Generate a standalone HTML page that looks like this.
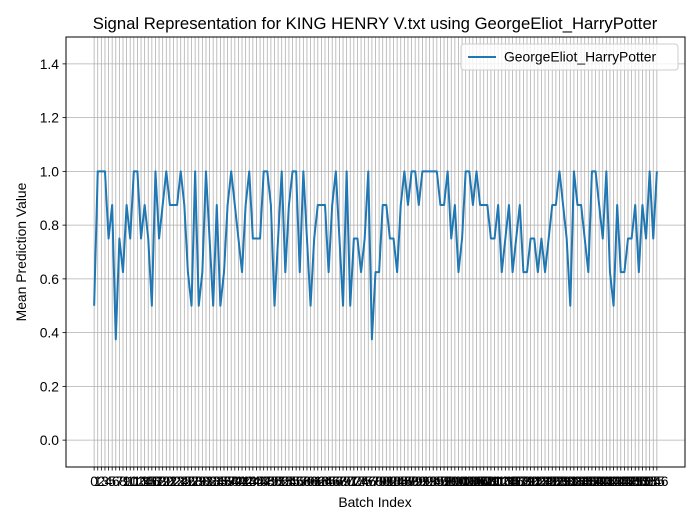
<!DOCTYPE html>
<html><head><meta charset="utf-8"><style>
body{margin:0;background:#fff}
svg{display:block;font-family:"Liberation Sans","DejaVu Sans",sans-serif}
</style></head><body>
<svg id="chart" width="700" height="525" xmlns="http://www.w3.org/2000/svg">
<rect x="0" y="0" width="700" height="525" fill="#fff"/>
<text x="375" y="29" font-size="16.7" text-anchor="middle">Signal Representation for KING HENRY V.txt using GeorgeEliot_HarryPotter</text>
<text x="375" y="507" font-size="13.9" text-anchor="middle">Batch Index</text>
<text transform="translate(26,252) rotate(-90)" font-size="13.9" text-anchor="middle">Mean Prediction Value</text>
<g id="grid"></g><g id="xt"></g><g id="yt"></g><g id="series"></g>
<rect x="66" y="37" width="619" height="430" fill="none" stroke="#000" stroke-width="1"/>
<g>
<rect x="461" y="44" width="217" height="26" fill="#fff" fill-opacity="0.8" stroke="#ccc" rx="3"/>
<line x1="468" y1="57" x2="496" y2="57" stroke="#1f77b4" stroke-width="2"/>
<text x="504" y="61.5" font-size="13.9">GeorgeEliot_HarryPotter</text>
</g>
</svg>
<script>
const values=[0.5,1,1,1,0.75,0.875,0.375,0.75,0.625,0.875,0.75,1,1,0.75,0.875,0.75,0.5,1,0.75,0.875,1,0.875,0.875,0.875,1,0.875,0.625,0.5,1,0.5,0.625,1,0.75,0.5,0.875,0.5,0.625,0.875,1,0.875,0.75,0.625,0.875,1,0.75,0.75,0.75,1,1,0.875,0.5,0.75,1,0.625,0.875,1,1,0.625,1,0.75,0.5,0.75,0.875,0.875,0.875,0.625,0.875,1,0.75,0.5,1,0.5,0.75,0.75,0.625,0.75,1,0.375,0.625,0.625,0.875,0.875,0.75,0.75,0.625,0.875,1,0.875,1,1,0.875,1,1,1,1,1,0.875,0.875,1,0.75,0.875,0.625,0.75,1,1,0.875,1,0.875,0.875,0.875,0.75,0.75,0.875,0.625,0.75,0.875,0.625,0.75,0.875,0.625,0.625,0.75,0.75,0.625,0.75,0.625,0.75,0.875,0.875,1,0.875,0.75,0.5,1,0.875,0.875,0.75,0.625,1,1,0.875,0.75,1,0.625,0.5,0.875,0.625,0.625,0.75,0.75,0.875,0.625,0.875,0.75,1,0.75,1];
const yTicks=[0.0,0.2,0.4,0.6,0.8,1.0,1.2,1.4];
const NS="http://www.w3.org/2000/svg";
const L=66,R=685,T=37,B=467,ymin=-0.1,ymax=1.5;
const n=values.length;
function X(i){const span=(n-1)*1.1;return L+(R-L)*((i+(n-1)*0.05)/span);}
function Y(v){return B-(v-ymin)/(ymax-ymin)*(B-T);}
function mk(tag,attrs,parent){const e=document.createElementNS(NS,tag);for(const k in attrs)e.setAttribute(k,attrs[k]);parent.appendChild(e);return e;}
const grid=document.getElementById('grid'),xt=document.getElementById('xt'),yt=document.getElementById('yt'),ser=document.getElementById('series');
for(let i=0;i<n;i++){
 const x=X(i);
 const g=mk('line',{x1:x,y1:T,x2:x,y2:B,stroke:'#b0b0b0','stroke-width':0.8},grid);
 
 
 const tk=mk('line',{x1:x,y1:B,x2:x,y2:B+3.5,stroke:'#000','stroke-width':0.8},xt);
 
 
 const t=mk('text',{x:x,y:B+19,'font-size':13.9,'text-anchor':'middle'},xt);
 t.textContent=String(i);
 
 
}
yTicks.forEach(v=>{
 const y=Y(v);
 const g=mk('line',{x1:L,y1:y,x2:R,y2:y,stroke:'#b0b0b0','stroke-width':0.8},grid);
 
 
 const tk=mk('line',{x1:L-3.5,y1:y,x2:L,y2:y,stroke:'#000','stroke-width':0.8},yt);
 
 
 const t=mk('text',{x:L-7,y:y+5,'font-size':13.9,'text-anchor':'end'},yt);
 t.textContent=v.toFixed(1);
 
 
});
const pts=values.map((v,i)=>X(i).toFixed(2)+','+Y(v).toFixed(2)).join(' ');
const pl=mk('polyline',{points:pts,fill:'none',stroke:'#1f77b4','stroke-width':2,'stroke-linejoin':'round'},ser);


</script>
</body></html>
